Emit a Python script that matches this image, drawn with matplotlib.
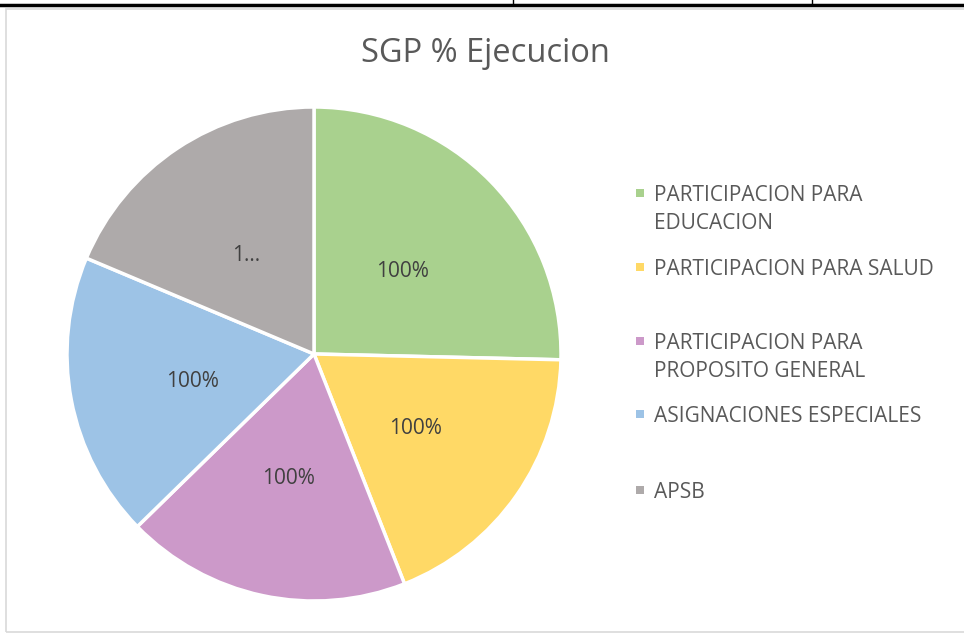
import matplotlib
matplotlib.use("Agg")
import matplotlib.pyplot as plt
import matplotlib.transforms as mtransforms
from matplotlib.patches import Rectangle
from matplotlib.lines import Line2D

categories = [
    "PARTICIPACION PARA\nEDUCACION",
    "PARTICIPACION PARA SALUD",
    "PARTICIPACION PARA\nPROPOSITO GENERAL",
    "ASIGNACIONES ESPECIALES",
    "APSB",
]
shares = [1.36, 1.0, 1.0, 1.0, 1.0]
pct_labels = ["100%", "100%", "100%", "100%", "1..."]
colors = ["#A9D18E", "#FFD966", "#CC99C9", "#9DC3E6", "#AEAAAA"]

plt.rcParams["font.family"] = ["Open Sans", "DejaVu Sans"]
text_color = "#595959"

W, H = 964, 634
fig = plt.figure(figsize=(W / 100, H / 100), dpi=100)
fig.patch.set_facecolor("white")

# table border above the chart
fig.add_artist(Line2D([0, 1], [1 - 5 / H, 1 - 5 / H], color="black", lw=2.5))
for x in (513, 812):
    fig.add_artist(Line2D([x / W, x / W], [1 - 5 / H, 1], color="black", lw=1))

# chart frame
fig.add_artist(Rectangle((6 / W, 1 - 632 / H), 1.1, (632 - 9) / H,
                         fill=False, edgecolor="#D9D9D9", lw=1.2))

cx, cy, r = 314, 354, 247
ax = fig.add_axes([(cx - r) / W, (H - cy - r) / H, 2 * r / W, 2 * r / H])
wedges, texts = ax.pie(shares, labels=pct_labels, colors=colors, startangle=90,
                       counterclock=False, labeldistance=0.5,
                       wedgeprops=dict(edgecolor="white", linewidth=2.5),
                       textprops=dict(color="#404040", fontsize=15))
for w in wedges:
    w.set_clip_on(False)
shift = mtransforms.offset_copy(ax.transData, fig=fig, x=0, y=-4, units="dots")
for t in texts:
    t.set_ha("center")
    t.set_va("center")
    t.set_transform(shift)
ax.set_xlim(-1.0, 1.0)
ax.set_ylim(-1.0, 1.0)
ax.set_aspect("equal")

fig.text(485 / W, 1 - 53 / H, "SGP % Ejecucion", ha="center", va="center",
         fontsize=23.5, color=text_color)

# legend (hand placed, entries spaced unevenly as in the original)
legend_base = [201, 275, 349, 422, 498]
line_h = 28
for name, col, y in zip(categories, colors, legend_base):
    fig.add_artist(Rectangle((636 / W, 1 - (y - 4) / H), 8 / W, 8 / H,
                             facecolor=col, edgecolor="none"))
    for i, line in enumerate(name.split("\n")):
        fig.text(654 / W, 1 - (y + i * line_h) / H, line, ha="left",
                 va="baseline", fontsize=15, color=text_color)

fig.savefig("out.png", dpi=100)
